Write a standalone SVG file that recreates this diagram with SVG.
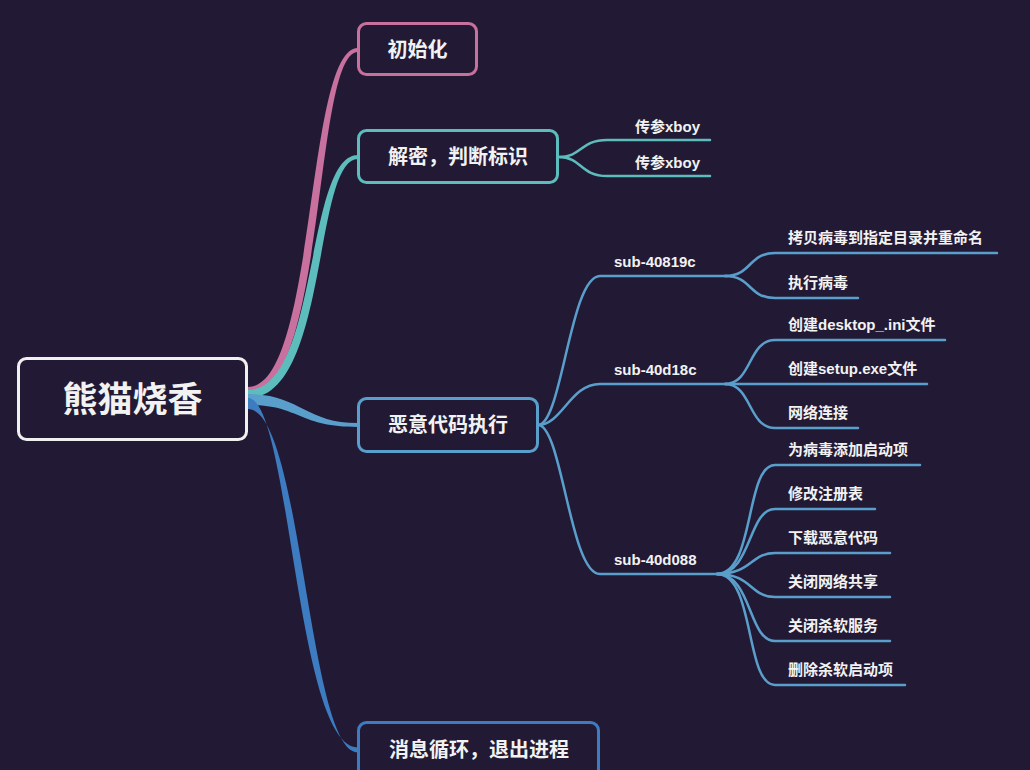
<svg xmlns="http://www.w3.org/2000/svg" width="1030" height="770" viewBox="0 0 1030 770">
<style>
  text { font-family: "Liberation Sans", "Noto Sans CJK SC", sans-serif; font-weight: bold; fill: #f2f2f2; }
  .root { font-size: 35px; }
  .br { font-size: 20px; }
  .lf { font-size: 15px; }
  .box { fill: #221a35; stroke-width: 3; }
  .ln { fill: none; stroke-width: 2.5; stroke-linecap: round; }
  .teal { stroke: #5dbdbd; }
  .lb { stroke: #5a9fcc; }
</style>
<rect x="0" y="0" width="1030" height="770" fill="#221a35"/>
<g id="connectors">
  <path d="M248,387 C317,387 305,48 358,48 L358,52 C313,52 327,395 248,395 Z" fill="#c8709e"/>
  <path d="M248,390 C319,390 305,155 358,155 L358,159 C313,159 329,398 248,398 Z" fill="#5dbdbd"/>
  <path d="M248,394 C300,394 305,423 358,423 L358,427 C298,427 300,405 248,405 Z" fill="#5a9fcc"/>
  <path d="M248,398 C290,398 296,747.5 358,747.5 L358,752.5 C308,752.5 302,409 248,409 Z" fill="#3d7cc0"/>
  <path class="ln teal" d="M559,157 C582,157 580,140 607,140 L710,140"/>
  <path class="ln teal" d="M559,157 C582,157 580,176 607,176 L710,176"/>
  <path class="ln lb" d="M538,425 C562,425 570,276 600,276 L727,276"/>
  <path class="ln lb" d="M538,425 C562,425 570,384 600,384 L727,384"/>
  <path class="ln lb" d="M538,425 C562,425 570,574 600,574 L727,574"/>
  <path class="ln lb" d="M725,276 C752,276 748,253 775,253 L997,253"/>
  <path class="ln lb" d="M725,276 C752,276 748,298 775,298 L858,298"/>
  <path class="ln lb" d="M725,384 C752,384 748,340 775,340 L945,340"/>
  <path class="ln lb" d="M725,384 L927,384"/>
  <path class="ln lb" d="M725,384 C752,384 748,428 775,428 L858,428"/>
  <path class="ln lb" d="M717,574 C755,574 745,465 775,465 L920,465"/>
  <path class="ln lb" d="M717,574 C752,574 748,509 775,509 L875,509"/>
  <path class="ln lb" d="M717,574 C752,574 750,553 775,553 L890,553"/>
  <path class="ln lb" d="M717,574 C752,574 750,597 775,597 L890,597"/>
  <path class="ln lb" d="M717,574 C752,574 748,641 775,641 L890,641"/>
  <path class="ln lb" d="M717,574 C755,574 745,685 775,685 L905,685"/>
</g>
<g id="root">
  <rect class="box" x="18.5" y="358.5" width="228" height="81" rx="8" stroke="#f0f0f0"/>
  <text class="root" x="132.5" y="412" text-anchor="middle">熊猫烧香</text>
</g>
<g id="n-init">
  <rect class="box" x="358.5" y="23.5" width="118" height="51" rx="8" stroke="#c8709e"/>
  <text class="br" x="417.5" y="57" text-anchor="middle">初始化</text>
</g>
<g id="n-decrypt">
  <rect class="box" x="358.5" y="130.5" width="199" height="52" rx="8" stroke="#5dbdbd"/>
  <text class="br" x="458" y="164" text-anchor="middle">解密，判断标识</text>
</g>
<g id="n-exec">
  <rect class="box" x="358.5" y="398.5" width="179" height="53" rx="8" stroke="#5a9fcc"/>
  <text class="br" x="448" y="432" text-anchor="middle">恶意代码执行</text>
</g>
<g id="n-loop">
  <rect class="box" x="358.5" y="722.5" width="240" height="60" rx="8" stroke="#3d7cc0"/>
  <text class="br" x="479" y="757" text-anchor="middle">消息循环，退出进程</text>
</g>
<g id="l-xboy1"><text class="lf" x="635" y="132">传参xboy</text></g>
<g id="l-xboy2"><text class="lf" x="635" y="168">传参xboy</text></g>
<g id="s-40819c"><text class="lf" x="614" y="267">sub-40819c</text></g>
<g id="s-40d18c"><text class="lf" x="614" y="375">sub-40d18c</text></g>
<g id="s-40d088"><text class="lf" x="614" y="565">sub-40d088</text></g>
<g id="l-copy"><text class="lf" x="788" y="243">拷贝病毒到指定目录并重命名</text></g>
<g id="l-run"><text class="lf" x="788" y="288">执行病毒</text></g>
<g id="l-desktop"><text class="lf" x="788" y="330">创建desktop_.ini文件</text></g>
<g id="l-setup"><text class="lf" x="788" y="374">创建setup.exe文件</text></g>
<g id="l-net"><text class="lf" x="788" y="418">网络连接</text></g>
<g id="l-autorun"><text class="lf" x="788" y="455">为病毒添加启动项</text></g>
<g id="l-reg"><text class="lf" x="788" y="499">修改注册表</text></g>
<g id="l-download"><text class="lf" x="788" y="543">下载恶意代码</text></g>
<g id="l-share"><text class="lf" x="788" y="587">关闭网络共享</text></g>
<g id="l-av"><text class="lf" x="788" y="631">关闭杀软服务</text></g>
<g id="l-avstart"><text class="lf" x="788" y="675">删除杀软启动项</text></g>
</svg>
